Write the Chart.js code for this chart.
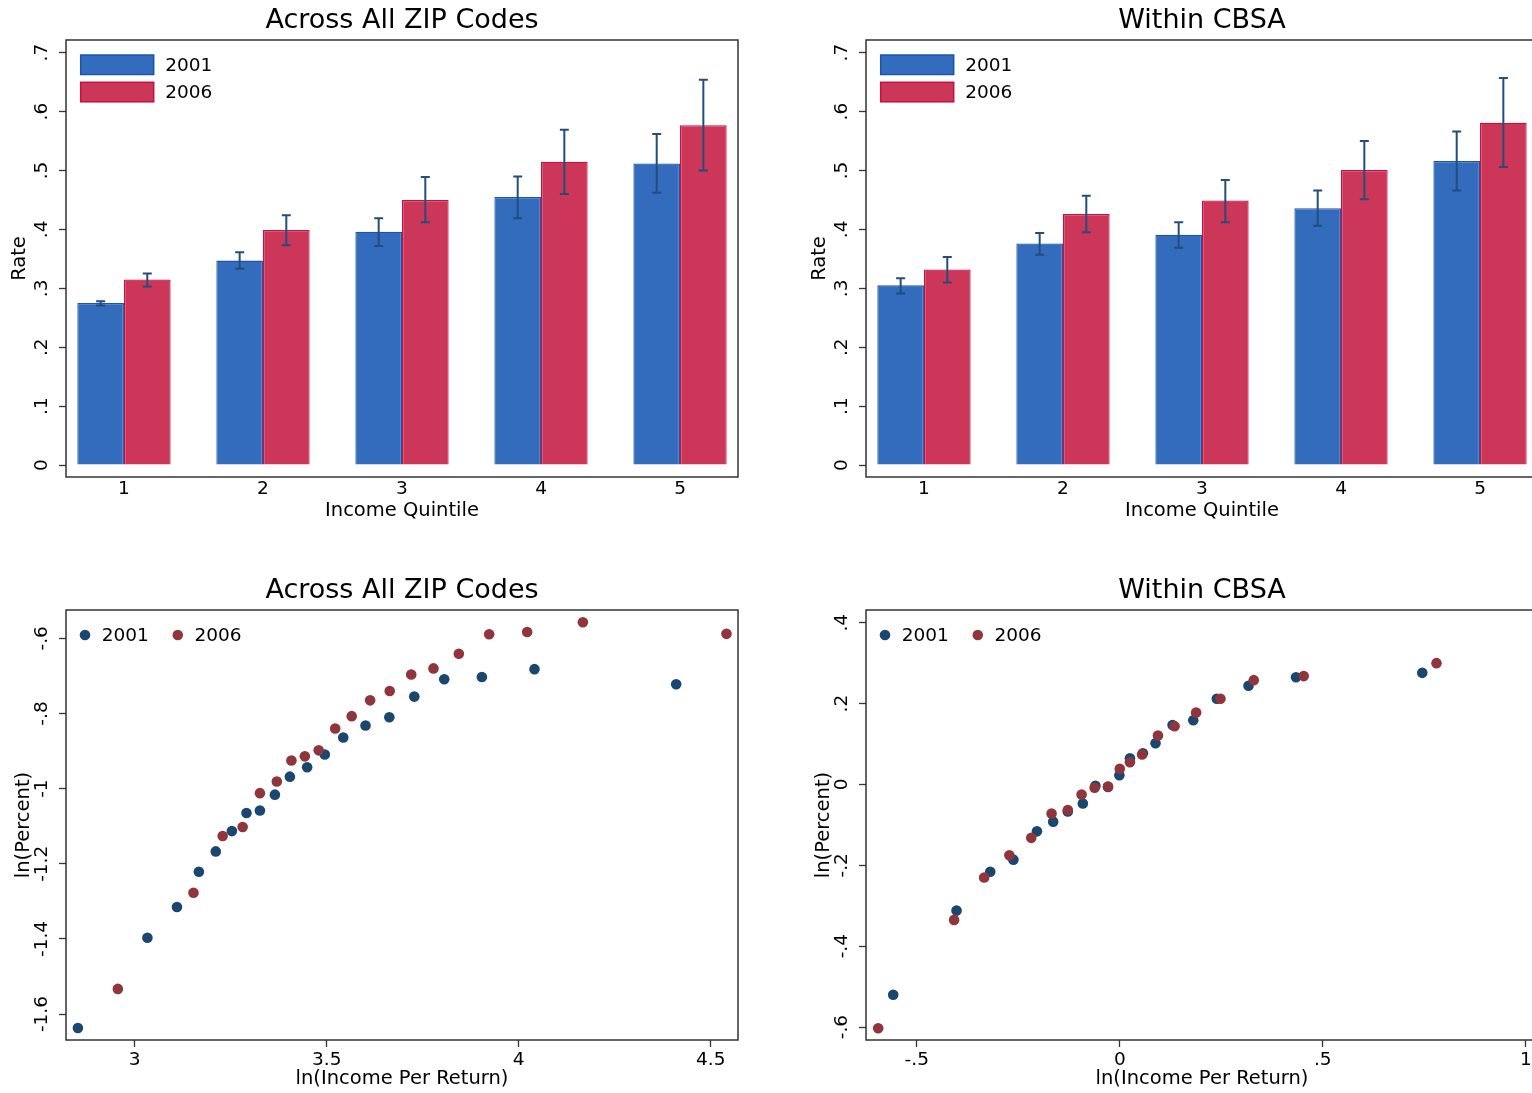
<!DOCTYPE html>
<html>
<head>
<meta charset="utf-8">
<title>Rate by Income Quintile</title>
<script src="https://cdn.jsdelivr.net/npm/chart.js@4.4.1/dist/chart.umd.min.js"></script>
<style>
    html, body { margin: 0; padding: 0; background: #fff; overflow: hidden; }
    body { width: 1532px; height: 1093px; position: relative; }
    canvas { position: absolute; }
    #zipBar { left: 0; top: 0; }
    #cbsaBar { left: 800px; top: 0; }
    #zipDot { left: 0; top: 570px; }
    #cbsaDot { left: 800px; top: 570px; }
</style>
</head>
<body>
<canvas id="zipBar" width="766" height="523"></canvas>
<canvas id="cbsaBar" width="766" height="523"></canvas>
<canvas id="zipDot" width="766" height="523"></canvas>
<canvas id="cbsaDot" width="766" height="523"></canvas>
<script>
// 막대 (상단): 소득 5분위별 비율과 신뢰구간
const quintiles = [1, 2, 3, 4, 5];
const rateTicks = [0, 0.1, 0.2, 0.3, 0.4, 0.5, 0.6, 0.7];

const zipRate2001 = [0.275, 0.347, 0.396, 0.455, 0.512];
const zipRate2006 = [0.315, 0.399, 0.450, 0.515, 0.577];
const zipLo2001 = [0.271, 0.333, 0.372, 0.419, 0.462];
const zipHi2001 = [0.278, 0.361, 0.419, 0.490, 0.562];
const zipLo2006 = [0.303, 0.373, 0.412, 0.460, 0.500];
const zipHi2006 = [0.325, 0.424, 0.489, 0.569, 0.654];

const cbsaRate2001 = [0.305, 0.376, 0.391, 0.436, 0.516];
const cbsaRate2006 = [0.332, 0.426, 0.449, 0.501, 0.581];
const cbsaLo2001 = [0.291, 0.357, 0.369, 0.406, 0.466];
const cbsaHi2001 = [0.317, 0.394, 0.412, 0.466, 0.566];
const cbsaLo2006 = [0.310, 0.395, 0.412, 0.451, 0.506];
const cbsaHi2006 = [0.353, 0.457, 0.484, 0.550, 0.657];

// 산점도 (하단): ln(소득) vs ln(비율)
const zipX2001 = [2.852, 3.033, 3.110, 3.167, 3.211, 3.253, 3.291, 3.326, 3.365, 3.404, 3.449, 3.495, 3.543, 3.601, 3.663, 3.728, 3.806, 3.904, 4.041, 4.410];
const zipY2001 = [-1.637, -1.397, -1.315, -1.221, -1.167, -1.113, -1.065, -1.058, -1.016, -0.968, -0.943, -0.909, -0.864, -0.832, -0.810, -0.755, -0.709, -0.703, -0.682, -0.722];
const zipX2006 = [2.956, 3.153, 3.229, 3.281, 3.326, 3.370, 3.408, 3.443, 3.479, 3.522, 3.565, 3.613, 3.664, 3.720, 3.778, 3.844, 3.923, 4.022, 4.167, 4.541];
const zipY2006 = [-1.533, -1.277, -1.126, -1.102, -1.012, -0.981, -0.925, -0.914, -0.898, -0.840, -0.807, -0.765, -0.740, -0.696, -0.680, -0.641, -0.589, -0.583, -0.557, -0.588];
const zipXTicks = [3, 3.5, 4, 4.5];
const zipYTicks = [-1.6, -1.4, -1.2, -1, -0.8, -0.6];

const cbsaX2001 = [-0.558, -0.402, -0.319, -0.262, -0.204, -0.164, -0.128, -0.091, -0.060, -0.029, -0.001, 0.025, 0.057, 0.088, 0.130, 0.181, 0.239, 0.317, 0.434, 0.745];
const cbsaY2001 = [-0.520, -0.312, -0.216, -0.186, -0.116, -0.092, -0.067, -0.047, -0.003, -0.006, 0.023, 0.065, 0.077, 0.102, 0.147, 0.159, 0.212, 0.244, 0.265, 0.276];
const cbsaX2006 = [-0.595, -0.408, -0.334, -0.272, -0.218, -0.168, -0.128, -0.094, -0.062, -0.029, 0.000, 0.025, 0.055, 0.094, 0.135, 0.188, 0.248, 0.330, 0.453, 0.780];
const cbsaY2006 = [-0.603, -0.335, -0.230, -0.175, -0.132, -0.072, -0.063, -0.025, -0.008, -0.005, 0.039, 0.055, 0.074, 0.121, 0.144, 0.178, 0.212, 0.258, 0.268, 0.300];
const cbsaXTicks = [-0.5, 0, 0.5, 1];
const cbsaYTicks = [-0.6, -0.4, -0.2, 0, 0.2, 0.4];

const BLUE = '#336bbd', BLUE_LINE = '#1a55ae';
const RED = '#cc3759', RED_LINE = '#c8103c';
const NAVY = '#1a476f', MAROON = '#90353b';
const SMALL = 18.5;
const AXIS_TITLE = 19.5;

Chart.defaults.font.family = '"DejaVu Sans", sans-serif';
Chart.defaults.color = '#000';

// stata 식 숫자 표기 (.5, -.6)
function fmt(v) {
    return String(v).replace(/^(-?)0\./, '$1.');
}

function fixedTicks(values) {
    return function (scale) {
        scale.ticks = values.map(v => ({value: v}));
    };
}

const frame = {
    id: 'frame',
    afterDraw(chart) {
        const {ctx, chartArea: a} = chart;
        ctx.save();
        ctx.strokeStyle = '#333';
        ctx.lineWidth = 1.5;
        ctx.strokeRect(a.left, a.top, a.right - a.left, a.bottom - a.top);
        ctx.restore();
    }
};

const errorBars = {
    id: 'errorBars',
    afterDatasetsDraw(chart) {
        const ctx = chart.ctx;
        const y = chart.scales.y;
        chart.data.datasets.forEach((ds, i) => {
            if (!ds.lo) return;
            chart.getDatasetMeta(i).data.forEach((bar, j) => {
                const top = y.getPixelForValue(ds.hi[j]);
                const bottom = y.getPixelForValue(ds.lo[j]);
                ctx.save();
                ctx.strokeStyle = '#234e7a';
                ctx.lineWidth = 2;
                ctx.beginPath();
                ctx.moveTo(bar.x, top);
                ctx.lineTo(bar.x, bottom);
                ctx.moveTo(bar.x - 4.5, top);
                ctx.lineTo(bar.x + 4.5, top);
                ctx.moveTo(bar.x - 4.5, bottom);
                ctx.lineTo(bar.x + 4.5, bottom);
                ctx.stroke();
                ctx.restore();
            });
        });
    }
};

const insideLegend = {
    id: 'insideLegend',
    afterDraw(chart, args, opts) {
        const {ctx, chartArea: a} = chart;
        const sets = chart.data.datasets;
        ctx.save();
        ctx.font = SMALL + 'px "DejaVu Sans"';
        ctx.textBaseline = 'middle';
        if (opts.style === 'box') {
            sets.forEach((ds, i) => {
                const x = a.left + 14.7;
                const y = a.top + 15 + i * 27.3;
                ctx.fillStyle = ds.backgroundColor;
                ctx.fillRect(x, y, 73, 19.5);
                ctx.strokeStyle = ds.borderColor;
                ctx.lineWidth = 1.5;
                ctx.strokeRect(x, y, 73, 19.5);
                ctx.fillStyle = '#000';
                ctx.fillText(ds.label, x + 84.6, y + 11.2);
            });
        } else {
            let x = a.left + 19;
            const y = a.top + 25;
            sets.forEach(ds => {
                ctx.fillStyle = ds.backgroundColor;
                ctx.beginPath();
                ctx.arc(x, y, 5.3, 0, Math.PI * 2);
                ctx.fill();
                ctx.fillStyle = '#000';
                ctx.fillText(ds.label, x + 16.7, y + 1.5);
                x += 16.7 + ctx.measureText(ds.label).width + 29;
            });
        }
        ctx.restore();
    }
};

function titleOpt(text) {
    return {
        display: true,
        fullSize: false,
        text: text,
        color: '#000',
        font: {size: 27, weight: 'normal'},
        padding: {top: 4.8, bottom: 2.8}
    };
}

function yAxis(min, max, ticks, title, pad, titlePad) {
    return {
        type: 'linear',
        min: min,
        max: max,
        afterBuildTicks: fixedTicks(ticks),
        afterFit: s => { s.width = 66; },
        grid: {display: true, drawOnChartArea: false, drawTicks: true, tickLength: 7, tickColor: '#333', tickWidth: 1.3},
        border: {display: false},
        ticks: {
            autoSkip: false,
            minRotation: 90,
            maxRotation: 90,
            crossAlign: 'center',
            padding: pad,
            font: {size: SMALL},
            callback: v => fmt(v)
        },
        title: {display: true, text: title, font: {size: AXIS_TITLE}, padding: {top: titlePad, bottom: 0}}
    };
}

function xAxis(min, max, ticks, title, height, tickLen, tickPad, titlePad) {
    return {
        type: 'linear',
        offset: false,
        min: min,
        max: max,
        afterBuildTicks: fixedTicks(ticks),
        afterFit: s => { s.height = height; },
        grid: {display: tickLen > 0, offset: false, drawOnChartArea: false, drawTicks: true, tickLength: tickLen, tickColor: '#333', tickWidth: 1.3},
        border: {display: false},
        ticks: {autoSkip: false, maxRotation: 0, padding: tickPad, font: {size: SMALL}, callback: v => fmt(v)},
        title: {display: true, text: title, font: {size: AXIS_TITLE}, padding: {top: 0, bottom: titlePad}}
    };
}

function toPoints(xs, ys) {
    return xs.map((x, i) => ({x: x, y: ys[i]}));
}

function drawBar(id, title, r2001, r2006, lo2001, hi2001, lo2006, hi2006) {
    new Chart(document.getElementById(id), {
        type: 'bar',
        data: {
            datasets: [{
                label: '2001',
                data: toPoints(quintiles, r2001),
                lo: lo2001,
                hi: hi2001,
                backgroundColor: BLUE,
                borderColor: BLUE_LINE,
                borderWidth: 1.3
            }, {
                label: '2006',
                data: toPoints(quintiles, r2006),
                lo: lo2006,
                hi: hi2006,
                backgroundColor: RED,
                borderColor: RED_LINE,
                borderWidth: 1.3
            }]
        },
        options: {
            responsive: false,
            animation: false,
            events: [],
            categoryPercentage: 0.671,
            barPercentage: 1.0,
            layout: {padding: {left: 0, right: 28, top: 0, bottom: 0}},
            scales: {
                x: xAxis(0.583, 5.417, quintiles, 'Income Quintile', 46, 0, 1, 0.3),
                y: yAxis(-0.0203, 0.7215, rateTicks, 'Rate', 7.7, 8.6)
            },
            plugins: {
                legend: {display: false},
                tooltip: {enabled: false},
                title: titleOpt(title),
                insideLegend: {style: 'box'}
            }
        },
        plugins: [errorBars, frame, insideLegend]
    });
}

function drawDots(id, title, x2001, y2001, x2006, y2006, xRange, yRange, xTicks, yTicks, yPad) {
    new Chart(document.getElementById(id), {
        type: 'scatter',
        data: {
            datasets: [{
                label: '2001',
                data: toPoints(x2001, y2001),
                backgroundColor: NAVY,
                borderColor: NAVY,
                pointRadius: 5.3,
                pointBorderWidth: 0,
                order: 1
            }, {
                label: '2006',
                data: toPoints(x2006, y2006),
                backgroundColor: MAROON,
                borderColor: MAROON,
                pointRadius: 5.3,
                pointBorderWidth: 0,
                order: 0
            }]
        },
        options: {
            responsive: false,
            animation: false,
            events: [],
            layout: {padding: {left: 0, right: 28, top: 0, bottom: 0}},
            scales: {
                x: xAxis(xRange[0], xRange[1], xTicks, 'ln(Income Per Return)', 53, 7, 2, 2.4),
                y: yAxis(yRange[0], yRange[1], yTicks, 'ln(Percent)', yPad, 12)
            },
            plugins: {
                legend: {display: false},
                tooltip: {enabled: false},
                title: titleOpt(title),
                insideLegend: {style: 'dot'}
            }
        },
        plugins: [frame, insideLegend]
    });
}

drawBar('zipBar', 'Across All ZIP Codes', zipRate2001, zipRate2006, zipLo2001, zipHi2001, zipLo2006, zipHi2006);
drawBar('cbsaBar', 'Within CBSA', cbsaRate2001, cbsaRate2006, cbsaLo2001, cbsaHi2001, cbsaLo2006, cbsaHi2006);
drawDots('zipDot', 'Across All ZIP Codes', zipX2001, zipY2001, zipX2006, zipY2006,
    [2.821, 4.571], [-1.669, -0.5245], zipXTicks, zipYTicks, -1.55);
drawDots('cbsaDot', 'Within CBSA', cbsaX2001, cbsaY2001, cbsaX2006, cbsaY2006,
    [-0.625, 1.030], [-0.632, 0.4315], cbsaXTicks, cbsaYTicks, 4.3);
</script>
</body>
</html>
